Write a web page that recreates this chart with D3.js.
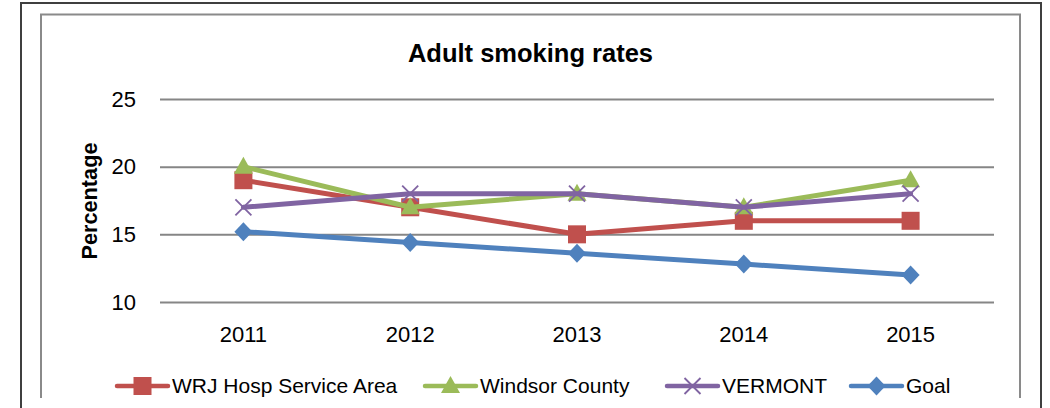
<!DOCTYPE html>
<html><head><meta charset="utf-8">
<script src="https://cdn.jsdelivr.net/npm/d3@7"></script>
<style>body{margin:0;background:#fff}svg{display:block}</style>
</head><body>
<svg id="c" width="1050" height="408"></svg>
<script>
const years = ["2011","2012","2013","2014","2015"];
const wrj = [19, 17, 15, 16, 16];
const windsor = [20, 17, 18, 17, 19];
const vermont = [17, 18, 18, 17, 18];
const goal = [15.2, 14.4, 13.6, 12.8, 12.0];
const yTicks = [10, 15, 20, 25];
const seriesNames = ["WRJ Hosp Service Area", "Windsor County", "VERMONT", "Goal"];

const series = [
  {name: seriesNames[0], values: wrj, color: "#C0504D", marker: "square"},
  {name: seriesNames[1], values: windsor, color: "#9BBB59", marker: "triangle"},
  {name: seriesNames[2], values: vermont, color: "#8064A2", marker: "x"},
  {name: seriesNames[3], values: goal, color: "#4F81BD", marker: "diamond"}
];

const svg = d3.select("#c");
const FONT = "'Liberation Sans', Arial, sans-serif";

// frames
svg.append("path").attr("d","M21,408 V3 H1041 V408").attr("fill","none").attr("stroke","#3f3f3f").attr("stroke-width",2);
svg.append("path").attr("d","M41,398 V14.5 H1020 V398").attr("fill","none").attr("stroke","#8a8a8a").attr("stroke-width",2);

const x = d3.scaleBand().domain(years).range([160, 994]);
const y = d3.scaleLinear().domain([10, 25]).range([302, 99]);

// gridlines
const yAxis = d3.axisLeft(y).tickValues(yTicks).tickSize(-(994-160)).tickPadding(24);
const gy = svg.append("g").attr("transform","translate(160,0)").call(yAxis);
gy.select(".domain").remove();
gy.selectAll(".tick line").attr("stroke","#868686").attr("stroke-width",2);
gy.selectAll(".tick text").attr("font-family",FONT).attr("font-size",22).attr("fill","#000").attr("x",-24);

const xAxis = d3.axisBottom(x).tickSize(0).tickPadding(0);
const gx = svg.append("g").attr("transform","translate(0,302)").call(xAxis);
gx.select(".domain").remove();
gx.selectAll(".tick text").attr("font-family",FONT).attr("font-size",22).attr("fill","#000").attr("dy",null).attr("y",40);

// title
svg.append("text").attr("x",530.5).attr("y",62).attr("text-anchor","middle")
  .attr("font-family",FONT).attr("font-weight","bold").attr("font-size",25.5).text("Adult smoking rates");
svg.append("text").attr("transform","translate(97,201) rotate(-90)").attr("text-anchor","middle")
  .attr("font-family",FONT).attr("font-weight","bold").attr("font-size",21.7).text("Percentage");

function drawMarker(g, type, cx, cy, color) {
  if (type === "square") {
    g.append("rect").attr("x",cx-9).attr("y",cy-9).attr("width",18).attr("height",18).attr("fill",color);
  } else if (type === "triangle") {
    g.append("path").attr("d",`M${cx},${cy-10} L${cx+9.5},${cy+7} L${cx-9.5},${cy+7} Z`).attr("fill",color);
  } else if (type === "diamond") {
    g.append("path").attr("d",`M${cx},${cy-9.5} L${cx+9},${cy} L${cx},${cy+9.5} L${cx-9},${cy} Z`).attr("fill",color);
  } else if (type === "x") {
    g.append("path").attr("d",`M${cx-8},${cy-8} L${cx+8},${cy+8} M${cx-8},${cy+8} L${cx+8},${cy-8}`)
      .attr("stroke",color).attr("stroke-width",1.8).attr("fill","none");
  }
}

const line = d3.line().x((d,i)=>x(years[i])+x.bandwidth()/2).y(d=>y(d));
series.forEach(s => {
  const g = svg.append("g");
  g.append("path").attr("d",line(s.values)).attr("fill","none").attr("stroke",s.color)
    .attr("stroke-width",5).attr("stroke-linejoin","round").attr("stroke-linecap","round");
  s.values.forEach((v,i)=>drawMarker(g, s.marker, x(years[i])+x.bandwidth()/2, y(v), s.color));
});

// legend
const legendX = [117, 425, 667, 851];
const ly = 386;
series.forEach((s,i) => {
  const g = svg.append("g");
  const x0 = legendX[i];
  g.append("line").attr("x1",x0).attr("x2",x0+51).attr("y1",ly).attr("y2",ly)
    .attr("stroke",s.color).attr("stroke-width",4.5).attr("stroke-linecap","round");
  drawMarker(g, s.marker, x0+25.5, ly, s.color);
  g.append("text").attr("x",x0+55).attr("y",393).attr("font-family",FONT).attr("font-size",21).attr("fill","#000").text(s.name);
});
</script>
</body></html>
